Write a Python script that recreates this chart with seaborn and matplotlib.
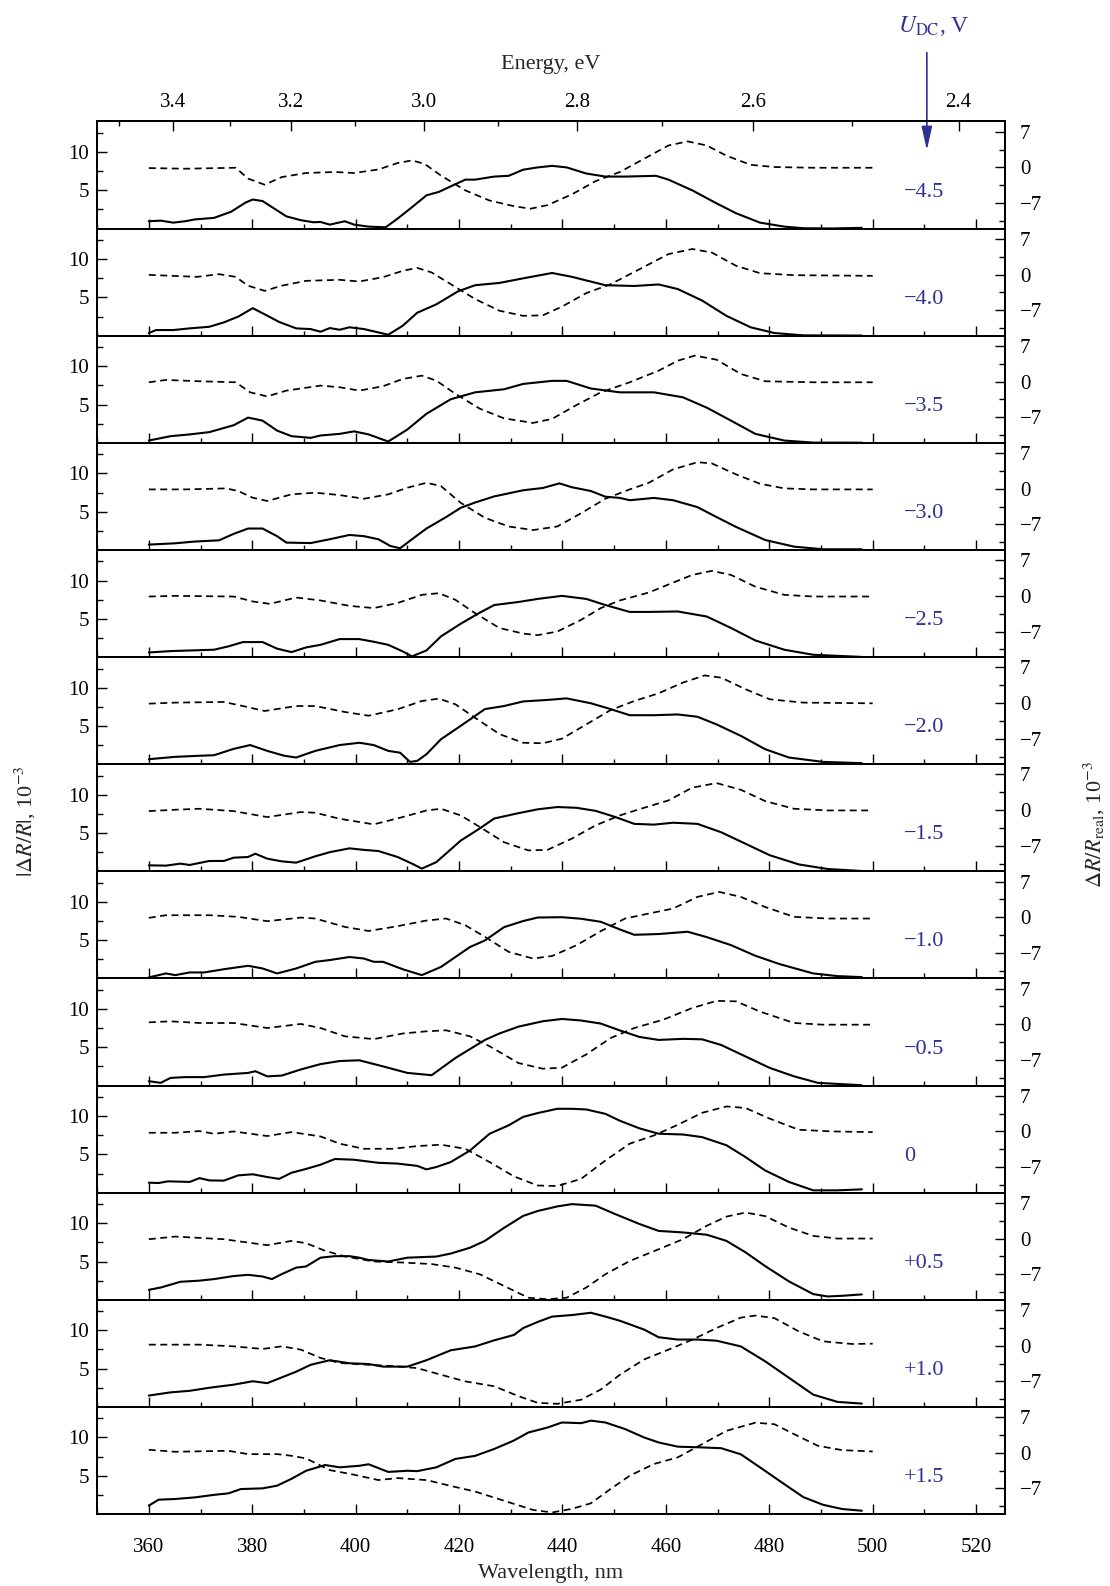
# %% electroreflectance spectra vs U_DC

import matplotlib.pyplot as plt
import matplotlib.transforms as mtransforms
from matplotlib.ticker import MultipleLocator, FixedLocator
import pandas as pd
import seaborn as sns

# (wavelength nm, |dR/R| 1e-3) solid curves, (wavelength nm, dR/R_real 1e-3) dashed curves
solid_m45 = [(360, 0.96), (362.3, 1.04), (364.7, 0.78), (367, 0.96), (368.9, 1.2), (372.6, 1.4), (375.9, 2.2), (378.7, 3.4), (380.1, 3.8), (382, 3.6), (384.3, 2.6), (386.6, 1.6), (389.4, 1.1), (391.8, 0.83), (393.2, 0.87), (395, 0.52), (397.9, 0.96), (399.7, 0.52), (402.5, 0.26), (405.8, 0.17), (408.1, 1.3), (410.9, 2.8), (413.7, 4.35), (416.1, 4.8), (421.2, 6.4), (423.1, 6.4), (426.8, 6.8), (429.6, 6.9), (432.4, 7.7), (435.2, 8.0), (438, 8.2), (440.8, 8.0), (444.6, 7.2), (448.3, 6.8), (452.1, 6.8), (458.1, 6.9), (460.5, 6.4), (465.1, 5.0), (469.8, 3.3), (473.6, 2.0), (478.2, 0.78), (482.9, 0.26), (486.6, 0.05), (492.2, 0.02), (497.9, 0.1)]
dash_m45 = [(360, -0.13), (367, -0.26), (376.8, -0.07), (379.2, -2.2), (382.4, -3.4), (385.7, -1.9), (390.4, -1.1), (396, -0.9), (399.7, -1.1), (404.4, -0.4), (408.1, 0.85), (410.9, 1.37), (413.3, 0.7), (416.5, -1.6), (421.2, -4.5), (425.9, -6.5), (430.6, -7.6), (433.8, -8.1), (437.1, -7.4), (441.8, -5.3), (446.4, -2.7), (451.1, -0.9), (455.8, 1.7), (460.5, 4.3), (464.2, 5.1), (467.9, 4.3), (471.7, 2.3), (476.4, 0.5), (481, 0.07), (488.5, -0.07), (500, -0.07)]

solid_m40 = [(360, 0.35), (361.4, 0.74), (364.7, 0.74), (367.9, 0.96), (371.7, 1.17), (374.5, 1.74), (377.3, 2.5), (380.1, 3.6), (382.4, 2.8), (385.2, 1.8), (388.5, 0.96), (391.3, 0.87), (393.2, 0.52), (395, 1.0), (396.9, 0.78), (398.8, 1.1), (401.6, 0.87), (406.3, 0.13), (409.1, 1.3), (411.9, 3.0), (415.6, 4.1), (419.8, 5.8), (423.1, 6.6), (427.8, 6.9), (432.4, 7.5), (438, 8.2), (441.8, 7.7), (448.3, 6.6), (453.9, 6.5), (458.6, 6.7), (462.3, 6.1), (467, 4.6), (471.7, 2.6), (476.4, 1.1), (481, 0.35), (486.6, 0.05), (497.9, 0.02)]
dash_m40 = [(360, -0.07), (369.3, -0.46), (373.6, 0.07), (376.8, -0.46), (379.2, -2.2), (382.4, -3.2), (385.7, -2.2), (390.4, -1.24), (396.9, -1.04), (400.7, -1.37), (405.3, -0.52), (409.1, 0.72), (411.9, 1.3), (414.7, 0.4), (418.4, -1.9), (423.1, -4.8), (427.8, -7.1), (432.4, -8.1), (436.2, -8.0), (439.9, -6.3), (444.6, -3.65), (449.3, -1.9), (454.9, 1.04), (460.5, 4.0), (465.1, 5.0), (468.9, 4.3), (473.6, 1.7), (478.2, 0.26), (484.8, -0.13), (500, -0.26)]

solid_m35 = [(360, 0.3), (364.2, 0.87), (367.9, 1.1), (371.7, 1.4), (376.4, 2.3), (379.2, 3.3), (382, 2.9), (384.8, 1.6), (387.6, 0.87), (391.3, 0.65), (393.2, 0.96), (396.9, 1.17), (399.7, 1.5), (402.5, 1.1), (406.3, 0.17), (410, 1.74), (413.7, 3.8), (418.4, 5.7), (423.1, 6.6), (428.7, 7.0), (432.4, 7.7), (438, 8.1), (440.8, 8.1), (445.5, 7.1), (451.1, 6.6), (457.7, 6.6), (463.3, 5.95), (467.9, 4.6), (472.6, 2.9), (477.3, 1.17), (482.9, 0.3), (488.5, 0.03), (497.9, 0.02)]
dash_m35 = [(360, -0.13), (363.3, 0.33), (369.8, 0.07), (376.8, -0.13), (379.6, -2.1), (382.9, -2.9), (386.6, -1.76), (393.2, -0.78), (396.9, -1.1), (400.7, -1.76), (405.3, -0.9), (409.1, 0.52), (412.8, 1.17), (415.6, 0.2), (419.3, -2.4), (424, -5.3), (428.7, -7.2), (434.3, -8.1), (438, -7.3), (442.7, -4.6), (447.4, -2.1), (453, -0.13), (458.6, 2.15), (462.3, 4.1), (465.6, 5.1), (469.8, 4.3), (474.5, 1.5), (479.2, 0.07), (488.5, -0.13), (500, -0.13)]

solid_m30 = [(360, 0.7), (365.1, 0.87), (368.9, 1.1), (373.6, 1.26), (376.4, 2.1), (379.2, 2.8), (382, 2.8), (384.8, 1.8), (386.6, 0.96), (391.3, 0.9), (395, 1.4), (398.8, 1.96), (401.6, 1.8), (404.4, 1.4), (406.7, 0.52), (408.6, 0.22), (410.9, 1.4), (413.7, 2.8), (417.5, 4.3), (420.3, 5.5), (423.1, 6.2), (426.8, 7.0), (432.4, 7.8), (436.2, 8.1), (439.4, 8.7), (441.8, 8.2), (445.5, 7.7), (448.3, 6.96), (451.1, 6.8), (453, 6.5), (457.7, 6.8), (461.4, 6.5), (466.1, 5.6), (469.8, 4.3), (473.6, 3.0), (479.2, 1.3), (484.8, 0.43), (490.4, 0.09), (497.9, 0.09)]
dash_m30 = [(360, -0.13), (367, -0.13), (375, 0.07), (377.3, -0.46), (380.1, -1.76), (382.9, -2.4), (387.6, -1.1), (392.2, -0.78), (396.9, -1.24), (401.6, -1.96), (406.3, -1.1), (410, 0.2), (413.7, 1.17), (416.5, 0.52), (420.3, -2.74), (425, -5.7), (429.6, -7.4), (434.3, -8.1), (439, -7.4), (443.6, -4.8), (448.3, -1.96), (453, -0.13), (456.7, 1.17), (461.4, 3.8), (466.1, 5.2), (468.9, 4.96), (473.6, 2.8), (478.2, 0.98), (482.9, 0.07), (488.5, -0.13), (500, -0.13)]

solid_m25 = [(360, 0.6), (364.2, 0.78), (369.8, 0.9), (372.6, 0.96), (375.4, 1.4), (378.2, 1.96), (382, 1.96), (384.8, 1.1), (387.6, 0.65), (390.4, 1.26), (393.2, 1.6), (396.9, 2.35), (400.7, 2.35), (403.5, 2.0), (406.3, 1.6), (409.1, 0.74), (410.9, 0.09), (413.7, 0.87), (416.5, 2.7), (420.3, 4.35), (424, 5.8), (426.8, 6.8), (431.5, 7.2), (435.2, 7.6), (439.9, 8.0), (444.6, 7.6), (448.3, 6.8), (453, 5.9), (456.7, 5.9), (462.3, 5.96), (467.9, 5.3), (472.6, 3.8), (477.3, 2.17), (482.9, 0.96), (488.5, 0.3), (497.9, 0.02)]
dash_m25 = [(360, -0.13), (365.1, 0), (376.4, -0.13), (380.1, -1.1), (383.4, -1.57), (388.5, -0.33), (393.2, -0.9), (398.8, -1.96), (403.5, -2.4), (408.1, -1.4), (412.8, 0.2), (416.1, 0.52), (419.3, -0.78), (423.1, -3.4), (427.8, -6.3), (432.4, -7.4), (435.2, -7.7), (439, -7.0), (443.6, -4.7), (447.4, -2.4), (451.1, -0.9), (456.7, 0.65), (461.4, 2.6), (465.1, 4.1), (468.9, 4.9), (472.6, 4.1), (477.3, 1.8), (482.9, 0.2), (488.5, -0.13), (500, -0.13)]

solid_m20 = [(360, 0.65), (365.1, 0.96), (369.8, 1.1), (372.6, 1.17), (376.4, 2.0), (379.6, 2.5), (382.9, 1.74), (386.2, 1.1), (388.5, 0.87), (392.2, 1.74), (396.9, 2.5), (400.7, 2.8), (403.5, 2.5), (406.3, 1.74), (408.6, 1.5), (410.5, 0.3), (411.9, 0.43), (413.7, 1.3), (416.5, 3.26), (420.3, 5.0), (425, 7.2), (428.7, 7.6), (432.4, 8.2), (437.1, 8.4), (440.8, 8.6), (445.5, 7.96), (449.3, 7.2), (453, 6.4), (457.7, 6.4), (462.3, 6.5), (466.1, 6.2), (469.8, 5.2), (474.5, 3.7), (479.2, 1.96), (483.8, 0.87), (490.4, 0.3), (497.9, 0.13)]
dash_m20 = [(360, -0.13), (365.1, 0.07), (374.5, 0.2), (378.2, -0.6), (382.4, -1.57), (388.5, -0.6), (392.2, -0.6), (397.9, -1.76), (402.5, -2.5), (408.1, -1.24), (412.8, 0.39), (416.1, 0.85), (419.3, -0.26), (423.1, -2.9), (427.8, -6.1), (432.4, -7.8), (436.2, -7.9), (439.9, -7.0), (444.6, -4.2), (449.3, -1.4), (453.9, 0.39), (458.6, 1.9), (463.3, 4.0), (467.5, 5.4), (470.7, 4.96), (475.4, 2.7), (480.1, 0.72), (486.6, 0.07), (500, -0.07)]

solid_m15 = [(360, 0.78), (363.3, 0.74), (366.1, 1.0), (367.9, 0.83), (371.7, 1.35), (374.5, 1.35), (376.4, 1.78), (379.2, 1.87), (380.6, 2.3), (382.9, 1.65), (385.7, 1.3), (388.5, 1.13), (392.2, 1.96), (395, 2.5), (398.8, 3.0), (401.6, 2.8), (404.4, 2.65), (408.1, 1.87), (410.9, 1.0), (412.8, 0.35), (415.6, 1.2), (420.3, 4.0), (424, 5.6), (426.8, 6.9), (431.5, 7.6), (435.2, 8.1), (439, 8.4), (442.7, 8.3), (446.4, 7.9), (450.2, 7.1), (453.9, 6.2), (457.7, 6.1), (461.4, 6.35), (466.1, 6.2), (470.7, 5.1), (475.4, 3.6), (480.1, 2.1), (485.7, 0.9), (491.3, 0.3), (497.9, 0.04)]
dash_m15 = [(360, -0.2), (365.1, 0.07), (369.8, 0.26), (376.4, -0.2), (382.9, -1.37), (389.4, -0.39), (392.2, -0.52), (396.9, -1.7), (403.5, -2.8), (409.1, -1.37), (413.7, -0.07), (416.5, 0.26), (420.3, -1.04), (424, -3.3), (428.7, -6.3), (433.4, -7.9), (437.1, -7.8), (441.8, -5.6), (446.4, -3.0), (451.1, -1.04), (455.8, 0.46), (460.5, 1.9), (465.1, 4.4), (469.8, 5.3), (474.5, 3.98), (479.2, 1.76), (484.8, 0.26), (491.3, -0.07), (500, -0.07)]

solid_m10 = [(360, 0.13), (363.3, 0.65), (365.1, 0.43), (367.9, 0.78), (370.7, 0.78), (374.5, 1.2), (379.2, 1.65), (382, 1.3), (384.8, 0.65), (388.5, 1.3), (392.2, 2.17), (395, 2.4), (398.8, 2.8), (401.6, 2.6), (403.5, 2.17), (405.3, 2.17), (409.1, 1.2), (412.8, 0.43), (416.5, 1.5), (422.1, 4.1), (425, 4.96), (428.7, 6.7), (432.4, 7.5), (435.2, 7.96), (439.9, 8.0), (443.6, 7.8), (447.4, 7.4), (451.1, 6.4), (453.9, 5.7), (458.6, 5.8), (464.2, 6.1), (467.9, 5.4), (472.6, 4.35), (477.3, 2.96), (482, 1.87), (488.5, 0.65), (493.2, 0.3), (497.9, 0.17)]
dash_m10 = [(360, -0.13), (363.3, 0.39), (371.7, 0.39), (377.3, 0.07), (382.9, -0.78), (389.4, -0.07), (392.2, -0.26), (397.9, -1.9), (402.5, -2.7), (408.1, -1.76), (413.7, -0.65), (417.5, -0.26), (421.2, -1.57), (425, -3.85), (429.6, -6.8), (434.3, -8.1), (438, -7.6), (442.7, -5.5), (447.4, -2.74), (452.1, -0.26), (456.7, 0.72), (461.4, 1.7), (466.1, 3.98), (470.3, 4.96), (474.5, 3.98), (479.2, 2.0), (484.8, 0.07), (491.3, -0.26), (500, -0.26)]

solid_m05 = [(360, 0.57), (362.3, 0.35), (364.2, 1.0), (367, 1.1), (370.7, 1.1), (374.5, 1.43), (379.2, 1.65), (380.6, 1.87), (382.9, 1.2), (385.7, 1.3), (389.4, 2.1), (393.2, 2.8), (396.9, 3.2), (400.7, 3.3), (405.3, 2.5), (410, 1.65), (414.7, 1.35), (419.3, 3.6), (425, 5.96), (427.8, 6.8), (431.5, 7.7), (436.2, 8.4), (439.9, 8.7), (443.6, 8.5), (447.4, 8.1), (451.1, 7.2), (454.9, 6.35), (458.6, 5.96), (463.3, 6.1), (467, 6.04), (470.7, 5.3), (475.4, 3.8), (480.1, 2.3), (484.8, 1.2), (489.4, 0.35), (497.9, 0.04)]
dash_m05 = [(360, 0.39), (364.2, 0.59), (369.8, 0.26), (376.4, 0.26), (382.9, -0.72), (389.4, 0.07), (393.2, -0.72), (397.9, -2.35), (403.5, -2.9), (409.1, -1.8), (413.7, -1.37), (417.5, -1.17), (422.1, -2.35), (425.9, -4.3), (431.5, -7.6), (436.2, -8.7), (439.9, -8.5), (444.6, -5.9), (449.3, -2.7), (453.9, -0.72), (459.5, 0.91), (465.1, 3.2), (469.8, 4.6), (473.6, 4.5), (478.2, 2.5), (484.8, 0.26), (490.4, -0.07), (500, -0.07)]

solid_0 = [(360, 1.3), (361.9, 1.26), (363.7, 1.48), (367.9, 1.4), (369.8, 1.9), (371.7, 1.6), (374.5, 1.57), (377.3, 2.26), (380.1, 2.4), (382.9, 2.04), (385.2, 1.8), (387.6, 2.6), (390.4, 3.1), (393.2, 3.65), (396, 4.4), (399.7, 4.3), (404.4, 3.9), (408.1, 3.8), (411.9, 3.5), (413.7, 3.04), (415.6, 3.35), (418.4, 4.0), (422.1, 5.5), (425.9, 7.7), (429.6, 8.8), (432.4, 9.9), (435.2, 10.4), (439, 10.96), (441.8, 10.96), (444.6, 10.87), (448.3, 10.3), (451.1, 9.4), (454.9, 8.4), (458.6, 7.7), (463.3, 7.6), (467, 7.26), (471.7, 6.2), (475.4, 4.65), (479.2, 2.9), (483.8, 1.4), (488.5, 0.3), (493.2, 0.3), (497.9, 0.43)]
dash_0 = [(360, -0.26), (365.1, -0.26), (369.8, 0.07), (372.6, -0.46), (376.4, 0), (382.9, -0.9), (387.6, -0.13), (393.2, -0.98), (396.9, -2.4), (401.6, -3.4), (407.2, -3.4), (411.9, -2.87), (416.5, -2.6), (421.2, -3.4), (425.9, -6.0), (430.6, -8.8), (435.2, -10.6), (439, -10.7), (443.6, -9.3), (448.3, -5.7), (453, -2.4), (457.7, -0.78), (462.3, 1.3), (467, 3.65), (471.7, 4.9), (475.4, 4.6), (480.1, 2.5), (485.7, 0.33), (492.2, 0), (500, -0.13)]

solid_p05 = [(360, 1.3), (362.3, 1.6), (366.1, 2.35), (369.8, 2.5), (372.6, 2.7), (376.4, 3.1), (379.2, 3.26), (382, 3.04), (383.8, 2.7), (385.7, 3.35), (388.5, 4.2), (390.4, 4.35), (393.2, 5.5), (396, 5.7), (398.8, 5.7), (400.7, 5.5), (402.5, 5.2), (406.3, 5.0), (410, 5.5), (415.6, 5.65), (418.4, 6.04), (422.1, 6.8), (425, 7.7), (428.7, 9.4), (432.4, 10.96), (435.2, 11.6), (439, 12.2), (441.8, 12.5), (446.4, 12.3), (450.2, 11.2), (454.9, 9.9), (458.6, 9.0), (463.3, 8.8), (467.9, 8.5), (471.7, 7.7), (475.4, 6.2), (479.2, 4.4), (483.8, 2.4), (488.5, 0.74), (491.3, 0.43), (494.1, 0.52), (497.9, 0.7)]
dash_p05 = [(360, -0.13), (365.1, 0.39), (374.5, -0.13), (378.2, -0.65), (382.9, -1.3), (387.6, -0.46), (390.4, -0.9), (394.1, -2.4), (397.9, -3.5), (403.5, -4.5), (409.1, -4.7), (414.7, -5.0), (419.3, -5.7), (424, -7.0), (428.7, -9.3), (433.4, -11.6), (437.1, -11.9), (440.8, -11.6), (444.6, -9.6), (448.3, -7.0), (453, -4.4), (458.6, -2.1), (463.3, -0.13), (467.9, 2.5), (471.7, 4.3), (475.4, 5.1), (479.2, 4.4), (483.8, 2.15), (488.5, 0.52), (493.2, 0), (500, 0)]

solid_p10 = [(360, 1.48), (364.2, 1.9), (367.9, 2.1), (371.7, 2.5), (376.4, 2.9), (380.1, 3.35), (382.9, 3.1), (385.7, 3.85), (388.5, 4.6), (391.3, 5.5), (395, 6.1), (398.8, 5.7), (402.5, 5.6), (405.3, 5.26), (408.1, 5.26), (410, 5.26), (413.7, 6.1), (418.4, 7.4), (423.1, 7.9), (426.8, 8.7), (430.6, 9.4), (432.4, 10.3), (435.2, 11.1), (438, 11.8), (441.8, 12.0), (445.5, 12.3), (448.3, 11.8), (451.1, 11.26), (455.8, 10.1), (458.6, 9.1), (462.3, 8.8), (466.1, 8.8), (469.8, 8.65), (474.5, 7.9), (479.2, 5.96), (483.8, 3.8), (488.5, 1.6), (493.2, 0.65), (497.9, 0.43)]
dash_p10 = [(360, 0.2), (369.8, 0.2), (376.4, -0.13), (382, -0.65), (385.7, -0.13), (389.4, -0.78), (393.2, -2.4), (396.9, -3.4), (401.6, -3.7), (407.2, -4.0), (411.9, -4.4), (416.5, -5.7), (421.2, -7.0), (426.8, -7.96), (431.5, -9.9), (435.2, -11.2), (439, -11.4), (443.6, -10.6), (447.4, -8.6), (451.1, -5.7), (455.8, -2.7), (460.5, -0.78), (465.1, 1.17), (469.8, 3.46), (474.5, 5.5), (477.3, 5.9), (481, 5.4), (485.7, 2.8), (490.4, 0.85), (496, 0.33), (500, 0.39)]

solid_p15 = [(360, 1.1), (361.9, 1.87), (365.1, 1.96), (368.9, 2.17), (372.6, 2.5), (375.4, 2.7), (377.8, 3.26), (382, 3.35), (384.8, 3.7), (387.6, 4.6), (390.4, 5.65), (394.1, 6.4), (396.9, 6.1), (400.7, 6.3), (402.5, 6.5), (406.3, 5.5), (410, 5.65), (411.9, 5.6), (415.6, 6.1), (419.3, 7.2), (423.1, 7.6), (426.8, 8.5), (430.6, 9.6), (433.4, 10.65), (437.1, 11.3), (439.9, 11.96), (443.6, 11.87), (445.5, 12.2), (448.3, 11.96), (452.1, 11.1), (455.8, 10.0), (458.6, 9.35), (462.3, 8.8), (467, 8.7), (470.7, 8.6), (474.5, 7.8), (478.2, 6.1), (482.9, 3.9), (486.6, 2.2), (490.4, 1.2), (494.1, 0.65), (497.9, 0.43)]
dash_p15 = [(360, 0.59), (365.1, 0.2), (375.4, 0.39), (379.2, -0.26), (384.8, -0.26), (387.6, -0.59), (390.4, -1.1), (395, -3.4), (399.7, -4.3), (404.4, -5.35), (408.1, -4.96), (413.7, -5.35), (418.4, -6.5), (423.1, -7.6), (428.7, -9.4), (434.3, -11.2), (438, -11.7), (441.8, -11.0), (445.5, -9.9), (449.3, -7.1), (453, -4.5), (457.7, -2.2), (462.3, -0.9), (467, 1.7), (471.7, 4.3), (477.3, 5.9), (481, 5.6), (484.8, 3.65), (489.4, 1.37), (494.1, 0.52), (500, 0.26)]

volt_labels = ["\u22124.5", "\u22124.0", "\u22123.5", "\u22123.0", "\u22122.5", "\u22122.0", "\u22121.5",
               "\u22121.0", "\u22120.5", "0", "+0.5", "+1.0", "+1.5"]
solids = [solid_m45, solid_m40, solid_m35, solid_m30, solid_m25, solid_m20, solid_m15,
          solid_m10, solid_m05, solid_0, solid_p05, solid_p10, solid_p15]
dashes = [dash_m45, dash_m40, dash_m35, dash_m30, dash_m25, dash_m20, dash_m15,
          dash_m10, dash_m05, dash_0, dash_p05, dash_p10, dash_p15]
energy_ticks = [3.4, 3.2, 3.0, 2.8, 2.6, 2.4]

BLUE = '#2e3192'
HC = 1239.84

sns.set_theme(style='ticks')
plt.rcParams['font.family'] = ['Liberation Serif', 'DejaVu Serif']
plt.rcParams['mathtext.fontset'] = 'stix'
plt.rcParams['axes.edgecolor'] = 'black'
plt.rcParams['axes.linewidth'] = 1.4
plt.rcParams['xtick.color'] = 'black'
plt.rcParams['ytick.color'] = 'black'

fig, axes = plt.subplots(13, 1, sharex=True, figsize=(11.1, 15.86), dpi=100)
fig.subplots_adjust(left=0.0875, right=0.905, top=0.9234, bottom=0.0454, hspace=0)

for i, ax in enumerate(axes):
    s = pd.DataFrame(solids[i], columns=['wl', 'val'])
    d = pd.DataFrame(dashes[i], columns=['wl', 'val'])
    sns.lineplot(data=s, x='wl', y='val', ax=ax, color='black', lw=1.5, estimator=None)
    ax.set_xlim(350, 525.5)
    ax.set_ylim(0, 14)
    ax.yaxis.set_major_locator(FixedLocator([5, 10]))
    ax.yaxis.set_minor_locator(FixedLocator([2.5, 7.5, 12.5]))
    ax.xaxis.set_major_locator(MultipleLocator(20))
    ax.xaxis.set_minor_locator(MultipleLocator(10))
    ax.tick_params(axis='y', which='both', direction='in', labelsize=15, pad=6)
    ax.tick_params(axis='y', which='major', length=7, width=1)
    ax.tick_params(axis='y', which='minor', length=4.5, width=1)
    ax.tick_params(axis='x', which='both', direction='in', bottom=True, top=False, width=1,
                   labelsize=15, pad=17)
    ax.tick_params(axis='x', which='major', length=7)
    ax.tick_params(axis='x', which='minor', length=3.5)
    ax.set_xlabel('')
    ax.set_ylabel('')

    ax2 = ax.twinx()
    sns.lineplot(data=d, x='wl', y='val', ax=ax2, color='black', lw=1.25,
                 linestyle=(0, (4.0, 2.6)), estimator=None)
    ax2.set_ylim(-12, 9)
    ax2.yaxis.set_major_locator(FixedLocator([-7, 0, 7]))
    ax2.yaxis.set_minor_locator(FixedLocator([-10.5, -3.5, 3.5]))
    ax2.tick_params(axis='y', which='both', direction='in', labelsize=15, pad=11, width=1)
    ax2.tick_params(axis='y', which='major', length=7)
    ax2.tick_params(axis='y', which='minor', length=4.5)
    ax2.set_ylabel('')

    trans = mtransforms.blended_transform_factory(ax.transData, ax.transAxes)
    ax.text(506, 0.34, volt_labels[i], transform=trans, ha='left', va='center',
            fontsize=16, color=BLUE)

axes[-1].set_xlabel('Wavelength, nm', fontsize=16, labelpad=5)

top = axes[0].secondary_xaxis('top', functions=(lambda w: HC / w, lambda e: HC / e))
top.xaxis.set_major_locator(FixedLocator(energy_ticks))
top.xaxis.set_minor_locator(FixedLocator([3.5, 3.3, 3.1, 2.9, 2.7, 2.5]))
top.set_xticklabels([f'{e:.1f}' for e in energy_ticks])
top.tick_params(axis='x', which='both', direction='in', labelsize=15, pad=7, width=1)
top.tick_params(axis='x', which='major', length=7)
top.tick_params(axis='x', which='minor', length=3.5)
top.set_xlabel('Energy, eV', fontsize=16, labelpad=17)

fig.text(0.023, 0.482, r'$|\Delta R/R|$, 10$^{-3}$', rotation=90, ha='center', va='center', fontsize=16)
fig.text(0.986, 0.48, r'$\Delta R/R_{\mathrm{real}}$, 10$^{-3}$', rotation=90, ha='center', va='center',
         fontsize=16)

fig.text(0.8414, 0.9835, r'$U_{\mathrm{DC}}$, V', ha='center', va='center', fontsize=17, color=BLUE)
axes[0].annotate('', xy=(0.835, 0.9035), xytext=(0.835, 0.9685), xycoords='figure fraction',
                 textcoords='figure fraction',
                 arrowprops=dict(arrowstyle='-|>,head_length=0.9,head_width=0.2', color=BLUE,
                                 lw=1.2, mutation_scale=16))

plt.savefig('out.png', dpi=100)
